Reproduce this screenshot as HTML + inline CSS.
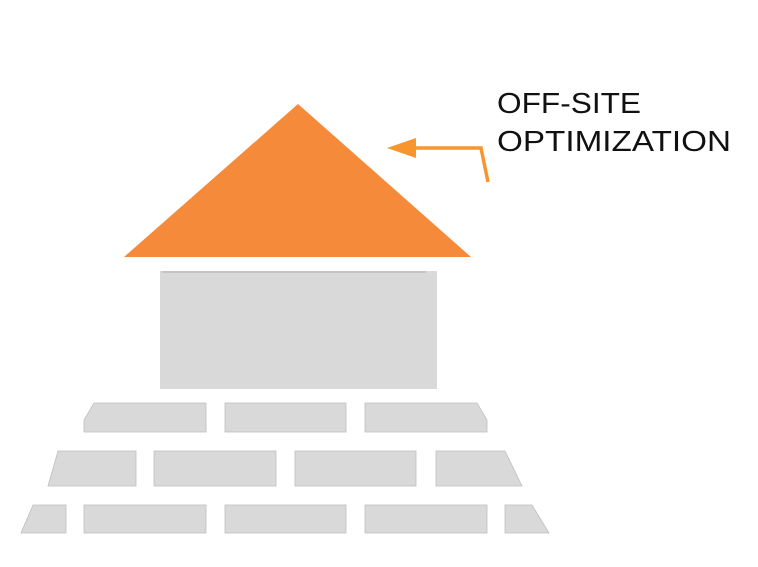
<!DOCTYPE html>
<html><head><style>html,body{margin:0;padding:0;background:#fff}</style></head><body>
<svg width="758" height="562" viewBox="0 0 758 562" xmlns="http://www.w3.org/2000/svg">
<polygon points="298,104 124,257 471,257" fill="#F58A3A"/>
<rect x="160" y="271" width="277" height="118" fill="#D9D9D9"/>
<line x1="162" y1="272" x2="426" y2="272" stroke="#BDBDBD" stroke-width="1.5"/>
<g fill="#D9D9D9" stroke="#BFBFBF" stroke-width="0.8">
<polygon points="94,403 206,403 206,432 84,432 84,420"/>
<rect x="225" y="403" width="121" height="29"/>
<polygon points="365,403 477,403 487,420 487,432 365,432"/>
<polygon points="58,451 136,451 136,486 48,486"/>
<rect x="154" y="451" width="122" height="35"/>
<rect x="295" y="451" width="121" height="35"/>
<polygon points="436,451 505,451 522,486 436,486"/>
<polygon points="33,505 66,505 66,533 21,533"/>
<rect x="84" y="505" width="122" height="28"/>
<rect x="225" y="505" width="121" height="28"/>
<rect x="365" y="505" width="122" height="28"/>
<polygon points="505,505 532,505 549,533 505,533"/>
</g>
<polyline points="410,148 481,148 488,182" fill="none" stroke="#F7962F" stroke-width="3.5"/>
<polygon points="387,148 416,138 416,158" fill="#F7962F"/>
<g font-family="Liberation Sans, sans-serif" font-size="29" fill="#111">
<text x="497" y="113" textLength="144" lengthAdjust="spacingAndGlyphs">OFF-SITE</text>
<text x="497" y="151" textLength="234" lengthAdjust="spacingAndGlyphs">OPTIMIZATION</text>
</g>
</svg>
</body></html>
